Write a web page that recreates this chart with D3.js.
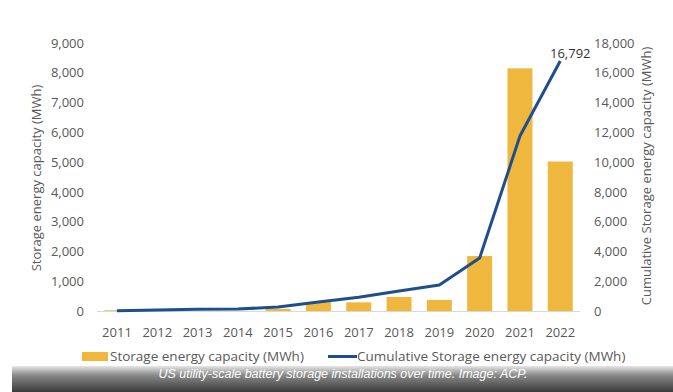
<!DOCTYPE html>
<html><head><meta charset="utf-8">
<script src="https://cdn.jsdelivr.net/npm/d3@7/dist/d3.min.js"></script>
<style>body{margin:0;background:#fff}svg{display:block}</style>
</head><body>
<script>
const years = ["2011","2012","2013","2014","2015","2016","2017","2018","2019","2020","2021","2022"];
const annual = [25, 0, 0, 0, 70, 300, 290, 470, 370, 1845, 8150, 5020];
const cumulative = [20, 60, 110, 130, 270, 600, 930, 1350, 1740, 3560, 11750, 16792];
const leftTicks = [0,1000,2000,3000,4000,5000,6000,7000,8000,9000];
const rightTicks = [0,2000,4000,6000,8000,10000,12000,14000,16000,18000];
const seriesNames = ["Storage energy capacity (MWh)", "Cumulative Storage energy capacity (MWh)"];
const caption = "US utility-scale battery storage installations over time. Image: ACP.";

const W = 673, H = 392;
const svg = d3.select("body").append("svg").attr("width", W).attr("height", H);
const font = "'Open Sans', 'Noto Sans', sans-serif";
const gray = "#595959";

const x = d3.scaleBand().domain(years).range([96.8, 580.4]).paddingInner(0.38).paddingOuter(0.19);
const yL = d3.scaleLinear().domain([0, 9000]).range([311, 43]);
const yR = d3.scaleLinear().domain([0, 18000]).range([311, 43]);

// baseline
svg.append("line").attr("x1", 97).attr("x2", 580).attr("y1", 311.5).attr("y2", 311.5)
  .attr("stroke", "#d9d9d9").attr("stroke-width", 1);

// bars
svg.selectAll("rect.bar").data(years).enter().append("rect")
  .attr("x", d => x(d)).attr("width", x.bandwidth())
  .attr("y", (d,i) => yL(annual[i])).attr("height", (d,i) => yL(0) - yL(annual[i]))
  .attr("fill", "#f0b73f");

// line
const line = d3.line().x((d,i) => x(years[i]) + x.bandwidth()/2).y(d => yR(d));
svg.append("path").datum(cumulative).attr("d", line)
  .attr("fill", "none").attr("stroke", "#1f4e8c").attr("stroke-width", 3)
  .attr("stroke-linejoin", "round");

// end label
svg.append("text").attr("x", x("2022") + x.bandwidth()/2 + 10).attr("y", yR(16792) - 3)
  .attr("text-anchor", "middle").attr("font-family", font).attr("font-size", 13).attr("fill", "#333")
  .text(d3.format(",")(16792));

// left axis
const axL = d3.axisLeft(yL).tickValues(leftTicks).tickFormat(d3.format(",")).tickSize(0).tickPadding(0);
const gL = svg.append("g").attr("transform", "translate(84,0)").call(axL);
gL.select(".domain").remove();
gL.selectAll("text").attr("font-family", font).attr("font-size", 13).attr("fill", gray);

// right axis
const axR = d3.axisRight(yR).tickValues(rightTicks).tickFormat(d3.format(",")).tickSize(0).tickPadding(0);
const gR = svg.append("g").attr("transform", "translate(594,0)").call(axR);
gR.select(".domain").remove();
gR.selectAll("text").attr("font-family", font).attr("font-size", 13).attr("fill", gray);

// x axis
const axX = d3.axisBottom(x).tickSize(0).tickPadding(0);
const gX = svg.append("g").attr("transform", "translate(0,327.5)").call(axX);
gX.select(".domain").remove();
gX.selectAll("text").attr("font-family", font).attr("font-size", 13).attr("fill", gray);

// axis titles
svg.append("text").attr("transform", "translate(41,178) rotate(-90)").attr("text-anchor", "middle")
  .attr("font-family", font).attr("font-size", 13).attr("fill", gray).text("Storage energy capacity (MWh)");
svg.append("text").attr("transform", "translate(651,176) rotate(-90)").attr("text-anchor", "middle")
  .attr("font-family", font).attr("font-size", 13).attr("fill", gray).text("Cumulative Storage energy capacity (MWh)");

// legend
svg.append("rect").attr("x", 82).attr("y", 352).attr("width", 26).attr("height", 9).attr("fill", "#f0b73f");
svg.append("text").attr("x", 110).attr("y", 361).attr("font-family", font).attr("font-size", 13.5).attr("fill", gray).text(seriesNames[0]);
svg.append("line").attr("x1", 328).attr("x2", 357).attr("y1", 356.5).attr("y2", 356.5).attr("stroke", "#1f4e8c").attr("stroke-width", 3);
svg.append("text").attr("x", 357).attr("y", 361).attr("font-family", font).attr("font-size", 13.5).attr("fill", gray).text(seriesNames[1]);

// caption band
const defs = svg.append("defs");
const grad = defs.append("linearGradient").attr("id", "cap").attr("x1", 0).attr("x2", 0).attr("y1", 0).attr("y2", 1);
grad.append("stop").attr("offset", "0%").attr("stop-color", "#e6e6e6");
grad.append("stop").attr("offset", "35%").attr("stop-color", "#8a8a8a");
grad.append("stop").attr("offset", "100%").attr("stop-color", "#3a3a3a");
svg.append("rect").attr("x", 12).attr("y", 366).attr("width", W - 12).attr("height", H - 366).attr("fill", "url(#cap)");
svg.append("text").attr("x", 343).attr("y", 378).attr("text-anchor", "middle")
  .attr("font-family", "'Liberation Sans', Arial, sans-serif").attr("font-style", "italic").attr("font-size", 12.5)
  .attr("fill", "#fff").text(caption);
</script>
</body></html>
